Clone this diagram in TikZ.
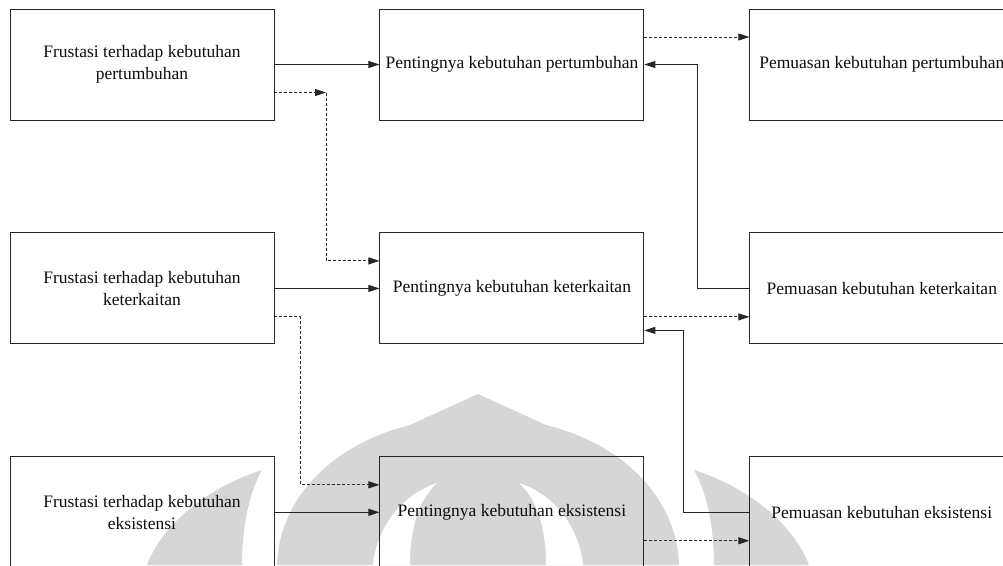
\documentclass[tikz,border=0pt]{standalone}
\usepackage{fontspec}
\setmainfont{Liberation Serif}
\usetikzlibrary{positioning,arrows.meta}
\definecolor{mywatermark}{gray}{.84}
\definecolor{myline}{gray}{.15}
\definecolor{mytext}{gray}{.05}
\newcommand{\widthbox}{264pt}
\newcommand{\heightbox}{111pt}
\newcommand{\gapcol}{105pt}
\newcommand{\gaprow}{112pt}
\tikzset{
    box/.style={draw=myline, rectangle, minimum width=\widthbox, minimum height=\heightbox,
        align=center, inner sep=2pt, text=mytext, font=\fontsize{17.5}{21.5}\selectfont},
    link/.style={draw=myline, ->},
    dashlink/.style={link, dash pattern=on 3pt off 2pt},
    wmark/.style={fill=mywatermark}
}

\begin{document}
\begin{tikzpicture}[x=1pt, y=-1pt, line width=0.9pt, >={Triangle[length=11pt, width=7pt]}]
    \useasboundingbox (0,0) rectangle (1003,565);
    \clip (0,0) rectangle (1003,565);

    \fill[wmark] (262,470) .. controls (200,490) and (160,530) .. (147,565) -- (242,565) .. controls (242,530) and (248,495) .. (262,470) -- cycle;
    \fill[wmark] (694,470) .. controls (756,490) and (796,530) .. (809,565) -- (714,565) .. controls (714,530) and (708,495) .. (694,470) -- cycle;
    \fill[wmark] (277,565) .. controls (279,500) and (330,445) .. (410,425) -- (478,394) -- (546,425) .. controls (626,445) and (677,500) .. (679,565) -- cycle;
    \fill[white] (437,483) .. controls (400,495) and (376,530) .. (373,565) -- (410,565) .. controls (410,530) and (418,500) .. (437,483) -- cycle;
    \fill[white] (519,483) .. controls (556,495) and (580,530) .. (583,565) -- (546,565) .. controls (546,530) and (538,500) .. (519,483) -- cycle;

    \node[box] (frusPert) at (142,64.5) {Frustasi terhadap kebutuhan\\pertumbuhan};
    \node[box, right=\gapcol of frusPert] (pentPert) {Pentingnya kebutuhan pertumbuhan};
    \node[box, right=\gapcol of pentPert] (puasPert) {Pemuasan kebutuhan pertumbuhan};

    \node[box, below=\gaprow of frusPert] (frusKait) {Frustasi terhadap kebutuhan\\keterkaitan};
    \node[box, right=\gapcol of frusKait] (pentKait) {Pentingnya kebutuhan keterkaitan};
    \node[box, right=\gapcol of pentKait] (puasKait) {Pemuasan kebutuhan keterkaitan};

    \node[box, below=\gaprow of frusKait] (frusEks) {Frustasi terhadap kebutuhan\\eksistensi};
    \node[box, right=\gapcol of frusEks] (pentEks) {Pentingnya kebutuhan eksistensi};
    \node[box, right=\gapcol of pentEks] (puasEks) {Pemuasan kebutuhan eksistensi};

    \coordinate (jPert) at (326,92.5);
    \coordinate (bendKait) at (300,400);
    \coordinate (upKait) at (697,180);
    \coordinate (upEks) at (683,420);

    \draw[link] (frusPert.east) -- (pentPert.west);
    \draw[dashlink] (frusPert.east |- jPert) -- (jPert);
    \draw[dashlink] (jPert) |- ([yshift=27.5pt]pentKait.west);
    \draw[link] (frusKait.east) -- (pentKait.west);
    \draw[dashlink] ([yshift=-28.5pt]frusKait.east) -| (bendKait) |- ([yshift=27.5pt]pentEks.west);
    \draw[link] (frusEks.east) -- (pentEks.west);

    \draw[dashlink] ([yshift=27.5pt]pentPert.east) -- ([yshift=27.5pt]puasPert.west);
    \draw[link] (puasKait.west) -| (upKait) |- (pentPert.east);
    \draw[dashlink] ([yshift=-28.5pt]pentKait.east) -- ([yshift=-28.5pt]puasKait.west);
    \draw[link] (puasEks.west) -| (upEks) |- ([yshift=-42pt]pentKait.east);
    \draw[dashlink] ([yshift=-28.5pt]pentEks.east) -- ([yshift=-28.5pt]puasEks.west);
\end{tikzpicture}
\end{document}
